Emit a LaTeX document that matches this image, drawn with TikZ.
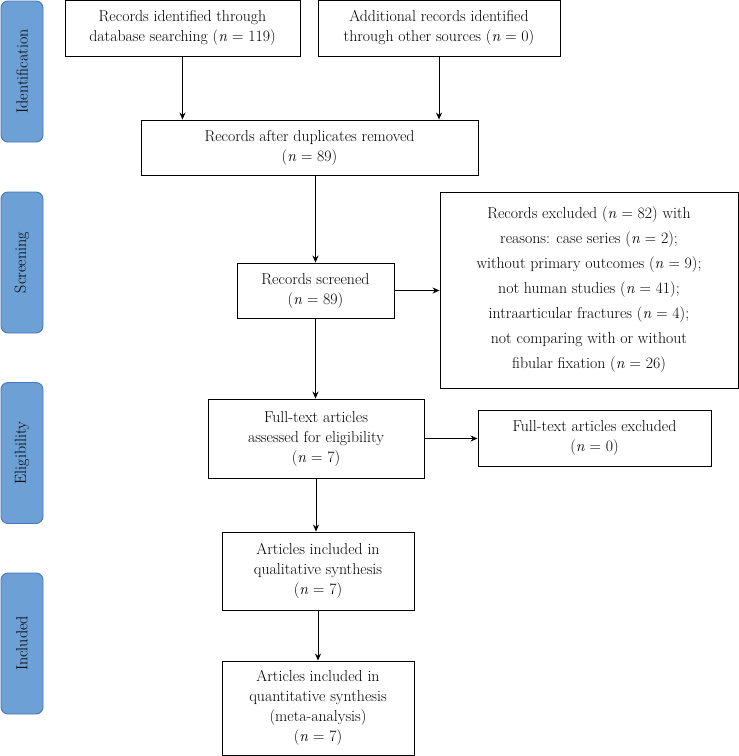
\documentclass[tikz,border=0pt]{standalone}
\usepackage{fontspec}
\usepackage{xcolor}
\usepackage{tikz}
\usetikzlibrary{arrows.meta, positioning, shapes.geometric}

\definecolor{phasefill}{RGB}{109,160,212}
\definecolor{phaseline}{RGB}{74,117,190}

\begin{document}
\begin{tikzpicture}[x=1pt, y=-1pt,
    box/.style={draw, line width=0.9pt, rectangle, align=center, inner sep=2pt,
        font=\fontsize{15.8}{20}\selectfont},
    phase/.style={draw=phaseline, fill=phasefill, line width=0.9pt, rounded corners=7pt,
        rotate=90, minimum width=141pt, minimum height=42pt, inner sep=0pt,
        font=\fontsize{16}{18}\selectfont},
    arr/.style={-{Stealth[length=7pt, width=6pt]}, line width=0.8pt}]
        \useasboundingbox (0,0) rectangle (739,756);

        % Phases
        \node[phase] (ident) at (22,71.5) {Identification};
        \node[phase] (screen) at (22,262.5) {Screening};
        \node[phase] (elig) at (22,453) {Eligibility};
        \node[phase] (incl) at (22,643.5) {Included};

        % Identification
        \node[box, minimum width=235pt, minimum height=56pt] (db) at (182.5,28) {
            Records identified through\\
            database searching (\textit{n} = 119)
        };
        \node[box, minimum width=242pt, minimum height=56pt] (other) at (439,28) {
            Additional records identified\\
            through other sources (\textit{n} = 0)
        };
        \node[box, minimum width=337pt, minimum height=55pt] (dup) at (309.5,147.5) {
            Records after duplicates removed\\
            (\textit{n} = 89)
        };

        % Screening
        \node[box, minimum width=157pt, minimum height=55pt] (screened) at (315.5,290.5) {
            Records screened\\
            (\textit{n} = 89)
        };
        \node[box, minimum width=298pt, minimum height=196pt,
            font=\fontsize{15.8}{25}\selectfont] (excluded) at (589,290) {
            Records excluded (\textit{n} = 82) with\\
            reasons: case series (\textit{n} = 2);\\
            without primary outcomes (\textit{n} = 9);\\
            not human studies (\textit{n} = 41);\\
            intraarticular fractures (\textit{n} = 4);\\
            not comparing with or without\\
            fibular fixation (\textit{n} = 26)
        };

        % Eligibility
        \node[box, minimum width=216pt, minimum height=79pt] (fulltext) at (316,438.5) {
            Full-text articles\\
            assessed for eligibility\\
            (\textit{n} = 7)
        };
        \node[box, minimum width=233pt, minimum height=56pt] (ftexcl) at (594.5,438) {
            Full-text articles excluded\\
            (\textit{n} = 0)
        };

        % Included
        \node[box, minimum width=192pt, minimum height=78pt] (qual) at (318,571) {
            Articles included in\\
            qualitative synthesis\\
            (\textit{n} = 7)
        };
        \node[box, minimum width=192pt, minimum height=94pt] (quant) at (318,708) {
            Articles included in\\
            quantitative synthesis\\
            (meta-analysis)\\
            (\textit{n} = 7)
        };

        % Flow
        \draw[arr] (db.south) -- (db.south |- dup.north);
        \draw[arr] (other.south) -- (other.south |- dup.north);
        \draw[arr] (screened.north |- dup.south) -- (screened.north);
        \draw[arr] (screened.east) -- (screened.east -| excluded.west);
        \draw[arr] (screened.south) -- (screened.south |- fulltext.north);
        \draw[arr] (fulltext.east) -- (fulltext.east -| ftexcl.west);
        \draw[arr] (fulltext.south) -- (fulltext.south |- qual.north);
        \draw[arr] (qual) -- (quant);
    \end{tikzpicture}
\end{document}
